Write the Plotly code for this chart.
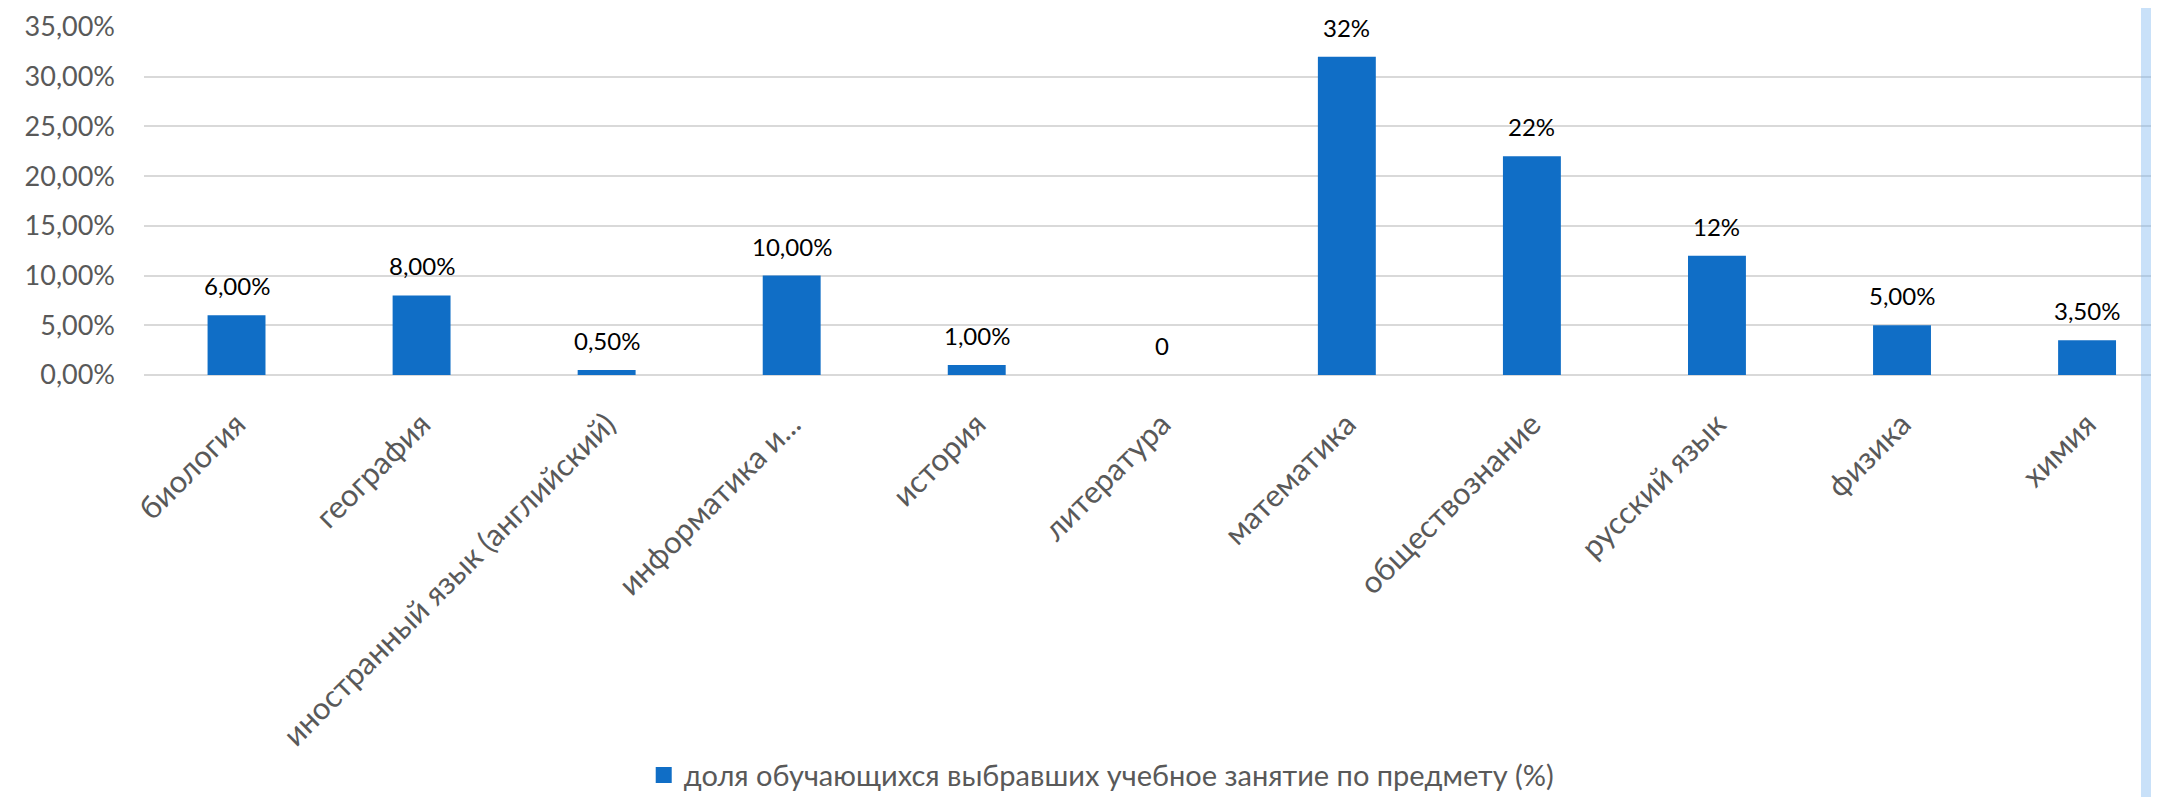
import plotly.graph_objects as go

categories = ["биология", "география", "иностранный язык (английский)", "информатика и...",
              "история", "литература", "математика", "обществознание", "русский язык",
              "физика", "химия"]
values = [0.06, 0.08, 0.005, 0.10, 0.01, 0.0, 0.32, 0.22, 0.12, 0.05, 0.035]
value_labels = ["6,00%", "8,00%", "0,50%", "10,00%", "1,00%", "0", "32%", "22%", "12%", "5,00%", "3,50%"]
series_name = "доля обучающихся выбравших учебное занятие по предмету (%)"

BAR = "#106EC6"
GRAY = "#595959"
GRID = "#D9D9D9"
FONT = "Lato, Open Sans, sans-serif"

# page body has an 8px margin, so the figure is 8px smaller than the window
W, H = 2151, 789
L, T, PH = 135.5, 19, 348
PW = W - L
CAT = 185.1  # pixels per category

fig = go.Figure()
fig.add_trace(go.Bar(
    x=categories, y=values, name=series_name,
    marker=dict(color=BAR, line=dict(width=0)),
    width=0.313, showlegend=False,
))
# legend entry with a larger square swatch
fig.add_trace(go.Scatter(
    x=[None], y=[None], mode="markers", name=series_name,
    marker=dict(symbol="square", size=18, color=BAR), showlegend=True,
))

for c, v, t in zip(categories, values, value_labels):
    fig.add_annotation(x=c, y=v, text=t, showarrow=False, yanchor="bottom",
                       yshift=13, font=dict(family=FONT, size=24, color="#000000"))

# light blue strip at the right edge (semi-transparent so gridlines show through)
fig.add_shape(type="rect", xref="paper", yref="paper",
              x0=(2133 - L) / PW, x1=1.05, y0=-2, y1=2,
              fillcolor="rgba(120,180,240,0.4)", line=dict(width=0), layer="above")

fig.update_layout(
    width=W, height=H,
    margin=dict(l=L, r=0, t=T, b=H - T - PH, autoexpand=False),
    paper_bgcolor="white", plot_bgcolor="white",
    separators=", ",
    font=dict(family=FONT, color=GRAY),
    showlegend=True,
    legend=dict(orientation="h", x=0.248, xanchor="left", y=-1.150, yanchor="middle",
                font=dict(family=FONT, size=29, color=GRAY), bgcolor="rgba(0,0,0,0)",
                itemwidth=30),
    xaxis=dict(range=[-0.5, -0.5 + PW / CAT], tickangle=-45, showgrid=False, showline=False,
               zeroline=False, ticks="", tickfont=dict(family=FONT, size=31, color=GRAY),
               ticklabelstandoff=24, automargin=False),
    yaxis=dict(range=[0, 0.35], tickformat=".2%", dtick=0.05, showgrid=True,
               gridcolor=GRID, gridwidth=1.5, zeroline=True, zerolinecolor=GRID,
               zerolinewidth=1.5, showline=False, ticks="",
               tickfont=dict(family=FONT, size=27, color=GRAY), ticklabelstandoff=28,
               automargin=False),
)

fig.write_html("out.html")
